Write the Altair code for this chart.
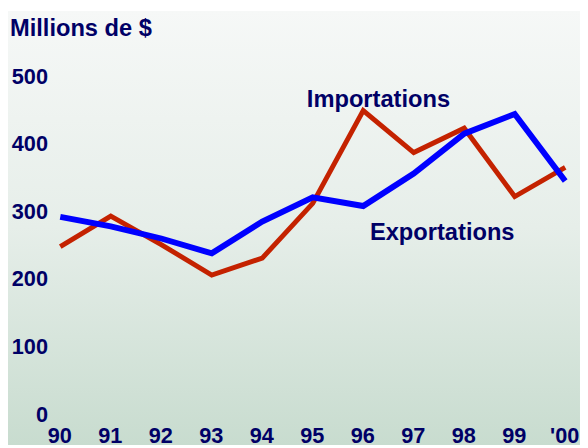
import altair as alt
import pandas as pd

years = ["90", "91", "92", "93", "94", "95", "96", "97", "98", "99", "'00"]
importations = [248, 293, 251, 206, 231, 312, 449, 387, 423, 322, 365]
exportations = [292, 278, 260, 238, 285, 321, 308, 356, 415, 444, 345]
y_ticks = [0, 100, 200, 300, 400, 500]

NAVY = "#000066"
FONT = "Liberation Sans"
FS = 24
AFS = 22
W, H = 512, 343
L, T = 53, 66

rows = []
for i, yr in enumerate(years):
    rows.append({"year": yr, "series": "Importations", "value": importations[i]})
    rows.append({"year": yr, "series": "Exportations", "value": exportations[i]})
df = pd.DataFrame(rows)

bg = alt.Chart(pd.DataFrame({"a": [0]})).mark_rect(
    fill=alt.Gradient(
        gradient="linear",
        stops=[
            alt.GradientStop(color="#f6f8f7", offset=0),
            alt.GradientStop(color="#e6eee9", offset=0.5),
            alt.GradientStop(color="#c8dccf", offset=1),
        ],
        x1=0, x2=0, y1=0, y2=1,
    )
).encode(
    x=alt.value(-L), x2=alt.value(580 - L),
    y=alt.value(-T), y2=alt.value(440 - T),
)

x_enc = alt.X(
    "year:O", sort=years, scale=alt.Scale(padding=0),
    axis=alt.Axis(title=None, labelAngle=0, domain=False, ticks=False, zindex=2,
                  labelFont=FONT, labelFontSize=AFS, labelFontWeight="bold",
                  labelColor=NAVY, labelPadding=12, labelOffset=-1),
)
y_enc = alt.Y(
    "value:Q", scale=alt.Scale(domain=[0, 500], nice=False),
    axis=alt.Axis(title=None, values=y_ticks, grid=False, domain=False, ticks=False, zindex=2,
                  labelFont=FONT, labelFontSize=AFS, labelFontWeight="bold",
                  labelColor=NAVY, labelPadding=13),
)

imp = alt.Chart(df).transform_filter(alt.datum.series == "Importations").mark_line(
    color="#c42200", strokeWidth=5
).encode(x=x_enc, y=y_enc)

exp = alt.Chart(df).transform_filter(alt.datum.series == "Exportations").mark_line(
    color="#0000ff", strokeWidth=6
).encode(x=x_enc, y=y_enc)

def label(txt, px, py):
    return alt.Chart(pd.DataFrame({"t": [txt]})).mark_text(
        align="left", baseline="alphabetic", font=FONT, fontSize=FS,
        fontWeight="bold", color=NAVY,
    ).encode(text="t:N", x=alt.value(px), y=alt.value(py))

title = label("Millions de $", 10 - 8 - L, 33 - 8 - T)
t_imp = label("Importations", 311 - 8 - L, 105 - 8 - T)
t_exp = label("Exportations", 375 - 8 - L, 240 - 8 - T)

chart = alt.layer(bg, imp, exp, title, t_imp, t_exp).properties(
    width=W, height=H,
    autosize=alt.AutoSizeParams(type="none"),
    padding={"left": L, "top": T, "right": 580 - L - W, "bottom": 440 - T - H},
).configure_view(stroke=None).configure(background="#ffffff")

chart.save("out.html", embed_options={"renderer": "svg", "actions": False})
